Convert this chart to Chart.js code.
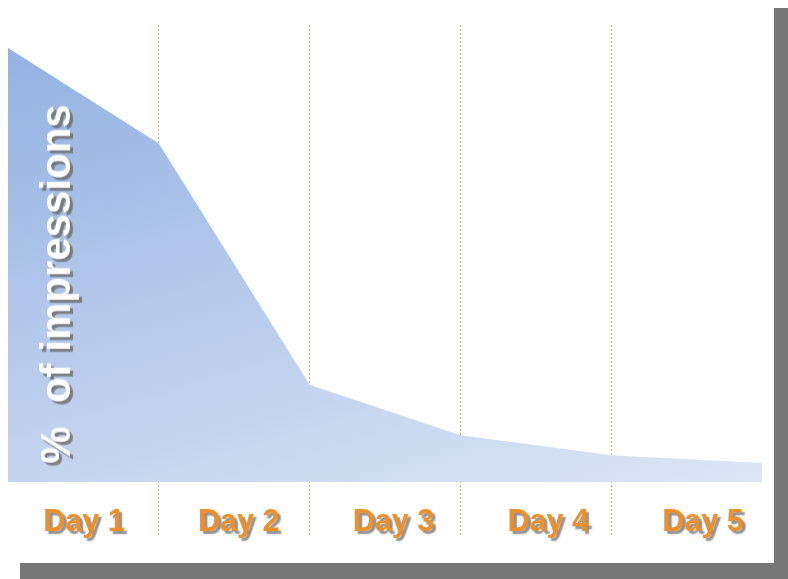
<!DOCTYPE html>
<html>
<head>
<meta charset="utf-8">
<script src="https://cdn.jsdelivr.net/npm/chart.js@4"></script>
<style>
  html, body { margin: 0; padding: 0; background: #fff; overflow: hidden; }
  #shadow { position: absolute; left: 20px; top: 8px; width: 800px; height: 600px; background: #777; }
  #panel { position: absolute; left: 0; top: 0; width: 774px; height: 563px; background: #fff; }
  #yTitle {
    position: absolute; left: 56px; top: 284px;
    transform: translate(-50%, -50%) rotate(-90deg);
    white-space: pre; font: bold 42px "Liberation Sans", Arial, sans-serif;
    color: #fff; text-shadow: -3px 3px 1px rgba(110, 110, 110, 0.85);
    pointer-events: none;
  }
</style>
</head>
<body>
<div id="shadow"></div>
<div id="panel">
  <canvas id="decayChart"></canvas>
  <div id="yTitle">%  of impressions</div>
</div>
<script>
// Chart data
const dayLabels = ['Day 1', 'Day 2', 'Day 3', 'Day 4', 'Day 5'];
const dayBoundaries = [0, 1, 2, 3, 4, 5];
const impressionShare = [100, 78, 22.4, 10.8, 6.2, 4.4];

// Shadow behind the day labels (they are drawn after the datasets, z = 1)
const labelShadow = {
    id: 'labelShadow',
    afterDatasetsDraw(chart) {
        const ctx = chart.ctx;
        ctx.save();
        ctx.shadowColor = 'rgba(100, 100, 100, 0.7)';
        ctx.shadowOffsetX = 3;
        ctx.shadowOffsetY = 3;
        ctx.shadowBlur = 1.5;
    },
    afterDraw(chart) {
        chart.ctx.restore();
    }
};

// Mostly vertical fade, a little lighter towards the right
function areaGradient(context) {
    const chart = context.chart;
    const area = chart.chartArea;
    if (!area) return '#b5c7ea';
    const g = chart.ctx.createLinearGradient(area.left, area.top + 23, area.left + 177, area.top + 623);
    g.addColorStop(0, '#93b1e2');
    g.addColorStop(1, '#dde5f4');
    return g;
}

const points = dayBoundaries.map((d, i) => ({ x: d, y: impressionShare[i] }));

new Chart(document.getElementById('decayChart'), {
    type: 'line',
    data: {
        datasets: [{
            data: points,
            fill: 'origin',
            backgroundColor: areaGradient,
            borderWidth: 0,
            pointRadius: 0,
            tension: 0,
            xAxisID: 'x'
        }]
    },
    options: {
        responsive: true,
        maintainAspectRatio: false,
        animation: false,
        layout: { padding: { left: 8, right: 12, top: 25, bottom: 11.4 } },
        plugins: {
            legend: { display: false },
            tooltip: { enabled: false }
        },
        scales: {
            x: {
                type: 'linear',
                min: 0,
                max: 5,
                ticks: { display: false, stepSize: 1 },
                border: { display: false, dash: [2, 2] },
                grid: {
                    drawTicks: false,
                    lineWidth: 1,
                    color: ctx => (ctx.tick && (ctx.tick.value === 0 || ctx.tick.value === 5))
                        ? 'rgba(0,0,0,0)' : '#eba96a'
                }
            },
            // day names sit a bit wider apart than the boundaries in the original
            x2: {
                type: 'linear',
                position: 'bottom',
                min: 0.009,
                max: 4.881,
                afterBuildTicks: scale => {
                    scale.ticks = dayLabels.map((d, i) => ({ value: i + 0.5 }));
                },
                border: { display: false },
                grid: { display: false, drawTicks: false },
                ticks: {
                    z: 1,
                    mirror: true,
                    padding: 8.3,
                    autoSkip: false,
                    maxRotation: 0,
                    callback: (value, index) => dayLabels[index],
                    color: '#ef8f2a',
                    font: { family: '"Liberation Sans", Arial, sans-serif', weight: 'bold', size: 30.5, lineHeight: 0.25 }
                }
            },
            y: {
                display: false,
                min: -12.2,
                max: 105.3
            }
        }
    },
    plugins: [labelShadow]
});
</script>
</body>
</html>
